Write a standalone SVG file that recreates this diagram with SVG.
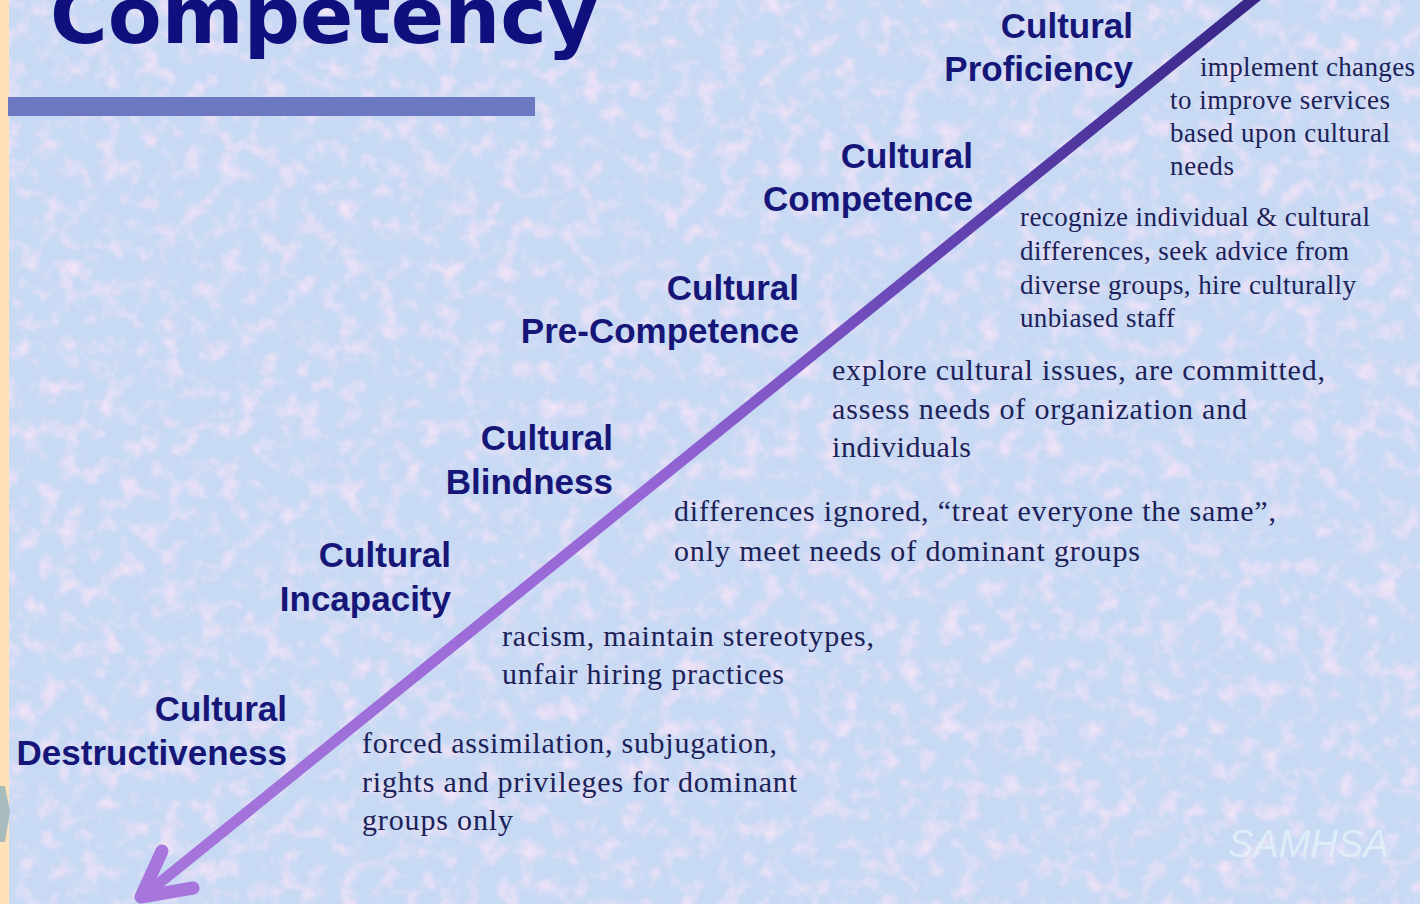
<svg xmlns="http://www.w3.org/2000/svg" width="1420" height="904" viewBox="0 0 1420 904">
  <defs>
    <filter id="tex" x="0" y="0" width="100%" height="100%">
      <feTurbulence type="fractalNoise" baseFrequency="0.05" numOctaves="3" seed="7" result="n"/>
      <feColorMatrix in="n" type="matrix" values="0 0 0 0 0.92  0 0 0 0 0.78  0 0 0 0 0.93  2.2 0 0 0 -1.05" result="pink"/>
      <feComposite in="pink" in2="SourceGraphic" operator="over"/>
    </filter>
    <linearGradient id="lineGrad" gradientUnits="userSpaceOnUse" x1="143" y1="898" x2="1253" y2="0">
      <stop offset="0" stop-color="#a676dc"/>
      <stop offset="0.45" stop-color="#9766d6"/>
      <stop offset="0.72" stop-color="#6444b2"/>
      <stop offset="1" stop-color="#382688"/>
    </linearGradient>
    <style>
      .label { font-family: "Liberation Sans", Arial, sans-serif; font-weight: bold; font-size: 35px; fill: #161678; text-anchor: end; }
      .desc { font-family: "Liberation Serif", "Times New Roman", serif; fill: #1c2258; }
      .d31 { font-size: 30px; }
      .d27 { font-size: 27px; }
    </style>
  </defs>

  <g id="background">
    <rect x="0" y="0" width="1420" height="904" fill="#c8d9f4" filter="url(#tex)"/>
    <rect x="0" y="0" width="9" height="904" fill="#ffe2b6"/>
    <polygon points="0,786 5,786 10,812 5,842 0,842" fill="#a9bcbd"/>
  </g>

  <g id="title">
    <text x="50" y="43" font-family="'DejaVu Sans', Verdana, sans-serif" font-weight="bold" font-size="78" fill="#0f0f7e" textLength="548" lengthAdjust="spacingAndGlyphs">Competency</text>
    <rect x="8" y="97" width="527" height="19" fill="#6c78c2"/>
  </g>

  <g id="connectors">
    <line x1="1262" y1="-8" x2="142" y2="897" stroke="url(#lineGrad)" stroke-width="11" stroke-linecap="round"/>
    <polyline points="162,851 141,897 193,888" fill="none" stroke="#a676dc" stroke-width="13" stroke-linecap="round" stroke-linejoin="round"/>
  </g>

  <g id="node-proficiency">
    <text class="label" x="1133" y="38">Cultural</text>
    <text class="label" x="1133" y="81">Proficiency</text>
    <text class="desc d27" x="1200" y="76" textLength="215" lengthAdjust="spacing">implement changes</text>
    <text class="desc d27" x="1170" y="109" textLength="220" lengthAdjust="spacing">to improve services</text>
    <text class="desc d27" x="1170" y="142" textLength="220" lengthAdjust="spacing">based upon cultural</text>
    <text class="desc d27" x="1170" y="175" textLength="64" lengthAdjust="spacing">needs</text>
  </g>

  <g id="node-competence">
    <text class="label" x="973" y="168">Cultural</text>
    <text class="label" x="973" y="211">Competence</text>
    <text class="desc d27" x="1020" y="226" textLength="350" lengthAdjust="spacing">recognize individual &amp; cultural</text>
    <text class="desc d27" x="1020" y="260" textLength="329" lengthAdjust="spacing">differences, seek advice from</text>
    <text class="desc d27" x="1020" y="294" textLength="336" lengthAdjust="spacing">diverse groups, hire culturally</text>
    <text class="desc d27" x="1020" y="327" textLength="155" lengthAdjust="spacing">unbiased staff</text>
  </g>

  <g id="node-precompetence">
    <text class="label" x="799" y="300">Cultural</text>
    <text class="label" x="799" y="343">Pre-Competence</text>
    <text class="desc d31" x="832" y="380" textLength="493" lengthAdjust="spacing">explore cultural issues, are committed,</text>
    <text class="desc d31" x="832" y="419" textLength="415" lengthAdjust="spacing">assess needs of organization and</text>
    <text class="desc d31" x="832" y="457" textLength="139" lengthAdjust="spacing">individuals</text>
  </g>

  <g id="node-blindness">
    <text class="label" x="613" y="450">Cultural</text>
    <text class="label" x="613" y="494">Blindness</text>
    <text class="desc d31" x="674" y="521" textLength="602" lengthAdjust="spacing">differences ignored, “treat everyone the same”,</text>
    <text class="desc d31" x="674" y="561" textLength="466" lengthAdjust="spacing">only meet needs of dominant groups</text>
  </g>

  <g id="node-incapacity">
    <text class="label" x="451" y="567">Cultural</text>
    <text class="label" x="451" y="611">Incapacity</text>
    <text class="desc d31" x="502" y="646" textLength="372" lengthAdjust="spacing">racism, maintain stereotypes,</text>
    <text class="desc d31" x="502" y="684" textLength="282" lengthAdjust="spacing">unfair hiring practices</text>
  </g>

  <g id="node-destructiveness">
    <text class="label" x="287" y="721">Cultural</text>
    <text class="label" x="287" y="765">Destructiveness</text>
    <text class="desc d31" x="362" y="753" textLength="415" lengthAdjust="spacing">forced assimilation, subjugation,</text>
    <text class="desc d31" x="362" y="792" textLength="435" lengthAdjust="spacing">rights and privileges for dominant</text>
    <text class="desc d31" x="362" y="830" textLength="151" lengthAdjust="spacing">groups only</text>
  </g>

  <g id="watermark">
    <text x="1228" y="857" font-family="'Liberation Sans', Arial, sans-serif" font-style="italic" font-size="38" fill="#e4f4fb" fill-opacity="0.75">SAMHSA</text>
  </g>
</svg>
